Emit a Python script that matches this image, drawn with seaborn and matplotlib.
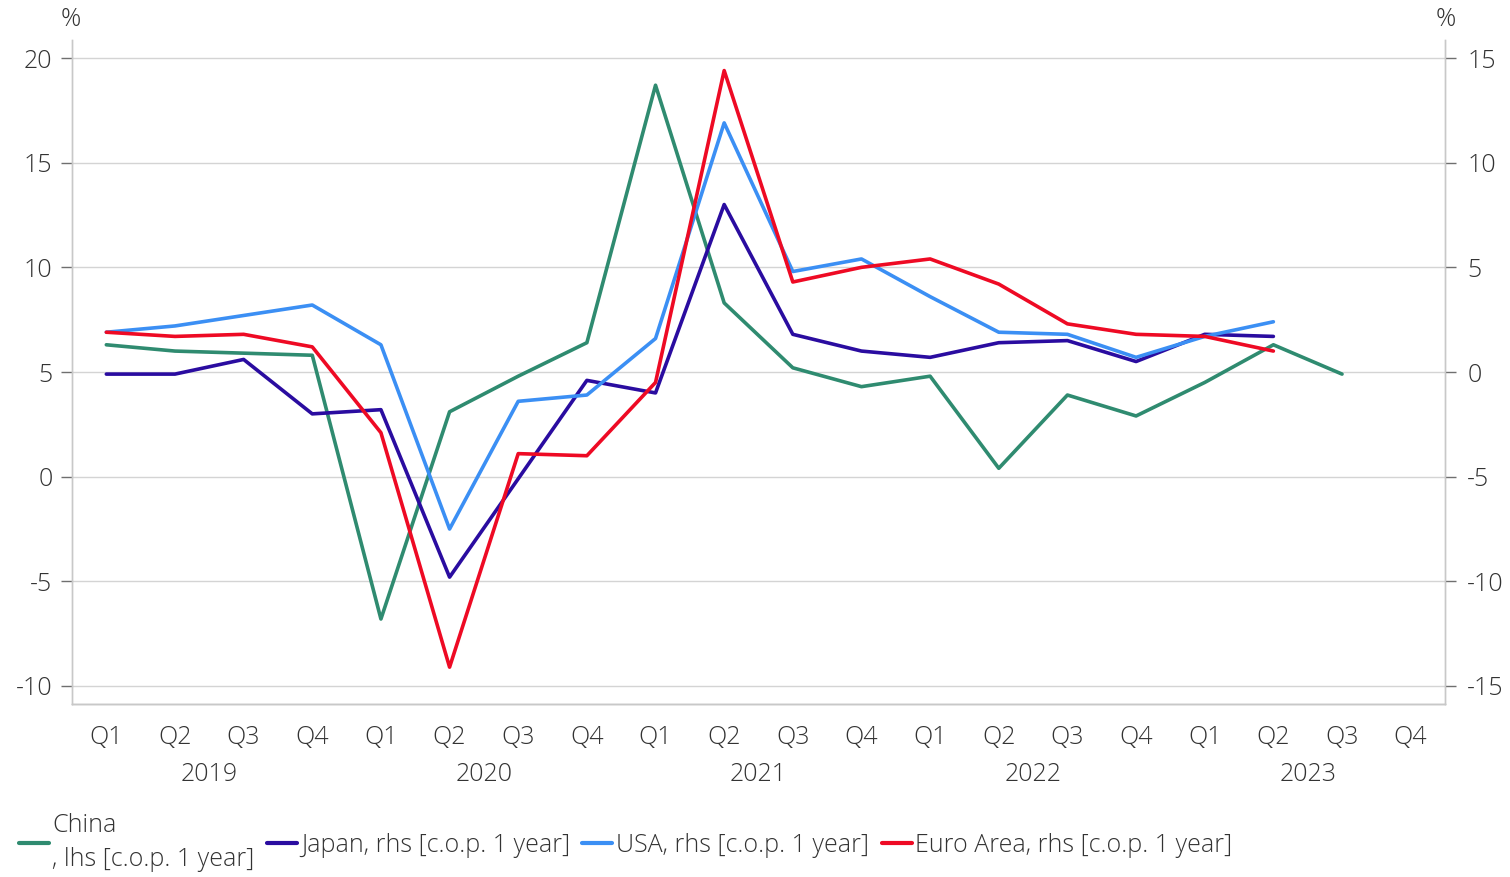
import matplotlib
matplotlib.use("Agg")
import matplotlib.pyplot as plt
import numpy as np
import pandas as pd
import seaborn as sns

# data (GDP growth, % c.o.p. 1 year)
QUARTERS = ["Q1", "Q2", "Q3", "Q4"]
YEARS = ["2019", "2020", "2021", "2022", "2023"]

china = [6.3, 6.0, 5.9, 5.8, -6.8, 3.1, 4.8, 6.4, 18.7, 8.3, 5.2, 4.3,
         4.8, 0.4, 3.9, 2.9, 4.5, 6.3, 4.9, np.nan]
japan = [-0.1, -0.1, 0.6, -2.0, -1.8, -9.8, -5.1, -0.4, -1.0, 8.0, 1.8, 1.0,
         0.7, 1.4, 1.5, 0.5, 1.8, 1.7, np.nan, np.nan]
usa = [1.9, 2.2, 2.7, 3.2, 1.3, -7.5, -1.4, -1.1, 1.6, 11.9, 4.8, 5.4,
       3.6, 1.9, 1.8, 0.7, 1.7, 2.4, np.nan, np.nan]
euro = [1.9, 1.7, 1.8, 1.2, -2.9, -14.1, -3.9, -4.0, -0.5, 14.4, 4.3, 5.0,
        5.4, 4.2, 2.3, 1.8, 1.7, 1.0, np.nan, np.nan]

LEFT_TICKS = [-10, -5, 0, 5, 10, 15, 20]
RIGHT_TICKS = [-15, -10, -5, 0, 5, 10, 15]

COLORS = {
    "China\n, lhs [c.o.p. 1 year]": "#2f8b70",
    "Japan, rhs [c.o.p. 1 year]": "#2a0ca0",
    "USA, rhs [c.o.p. 1 year]": "#3b8ff4",
    "Euro Area, rhs [c.o.p. 1 year]": "#ee0a24",
}
TEXT = "#333333"
GRID = "#d4d4d4"
FS = 18

sns.set_theme(style="white")
plt.rcParams["font.family"] = ["Open Sans", "DejaVu Sans"]
plt.rcParams["font.weight"] = "light"
plt.rcParams["font.size"] = FS

n = len(china)
pos = np.arange(n)
names = list(COLORS.keys())

lhs = pd.DataFrame({"pos": pos, "value": china, "series": names[0]})
rhs = pd.concat([
    pd.DataFrame({"pos": pos, "value": vals, "series": name})
    for name, vals in zip(names[1:], [japan, usa, euro])
], ignore_index=True)

fig = plt.figure(figsize=(15.1, 8.77), dpi=100)
ax = fig.add_axes([72 / 1510, 1 - 704 / 877, (1445 - 72) / 1510, (704 - 40) / 877])
ax2 = ax.twinx()

sns.lineplot(data=lhs, x="pos", y="value", hue="series", palette=COLORS,
             linewidth=2.6, ax=ax, legend=False)
sns.lineplot(data=rhs, x="pos", y="value", hue="series", palette=COLORS,
             linewidth=2.6, ax=ax2, legend=False)

ax.set_xlim(-0.5, n - 0.5)
ax.set_ylim(-10.86, 20.86)
ax2.set_ylim(-15.86, 15.86)

ax.set_yticks(LEFT_TICKS)
ax2.set_yticks(RIGHT_TICKS)
ax.set_yticklabels([str(t) for t in LEFT_TICKS], color=TEXT)
ax2.set_yticklabels([str(t) for t in RIGHT_TICKS], color=TEXT)
ax.grid(axis="y", color=GRID, linewidth=1)
ax.set_axisbelow(True)

for a in (ax, ax2):
    a.set_xlabel("")
    a.set_ylabel("")
    for s in a.spines.values():
        s.set_color("#c8c8c8")
        s.set_linewidth(1)
    a.spines["top"].set_visible(False)
ax.spines["bottom"].set_color("#a6a6a6")

ax.tick_params(axis="y", length=8, width=1, color="#6f6f6f", pad=6, labelsize=FS)
ax2.tick_params(axis="y", length=8, width=1, color="#6f6f6f", pad=8, labelsize=FS)

# x axis: long ticks at year boundaries, short ones between quarters
ax.set_xticks(np.arange(-0.5, n, 4))
ax.set_xticks([p + 0.5 for p in range(n - 1) if (p + 1) % 4 != 0], minor=True)
ax.set_xticklabels([])
ax.tick_params(axis="x", which="major", length=10, width=1.5, color="#505050", direction="out")
ax.tick_params(axis="x", which="minor", length=5, width=1, color="#7f7f7f", direction="out")

for i in range(n):
    ax.annotate(QUARTERS[i % 4], xy=(i, 0), xycoords=("data", "axes fraction"),
                xytext=(0, -24), textcoords="offset points", ha="center", va="center",
                color=TEXT, fontsize=FS)
for k, yr in enumerate(YEARS):
    ax.annotate(yr, xy=(4 * k + 1.5, 0), xycoords=("data", "axes fraction"),
                xytext=(0, -51), textcoords="offset points", ha="center", va="center",
                color=TEXT, fontsize=FS)

fig.text(71 / 1510, 1 - 19 / 877, "%", ha="center", va="center", color=TEXT, fontsize=FS)
fig.text(1446 / 1510, 1 - 19 / 877, "%", ha="center", va="center", color=TEXT, fontsize=FS)

handles = [plt.Line2D([], [], color=c, linewidth=3) for c in COLORS.values()]
leg = fig.legend(handles, names, ncol=4, loc="lower left", bbox_to_anchor=(0.009, 0.0),
                 borderaxespad=0.1, borderpad=0.1,
                 frameon=False, handlelength=1.2, handletextpad=0.15, columnspacing=0.5,
                 labelcolor=TEXT, fontsize=FS)
leg.get_texts()[0].set_linespacing(1.5)

fig.savefig("out.png", dpi=100)
